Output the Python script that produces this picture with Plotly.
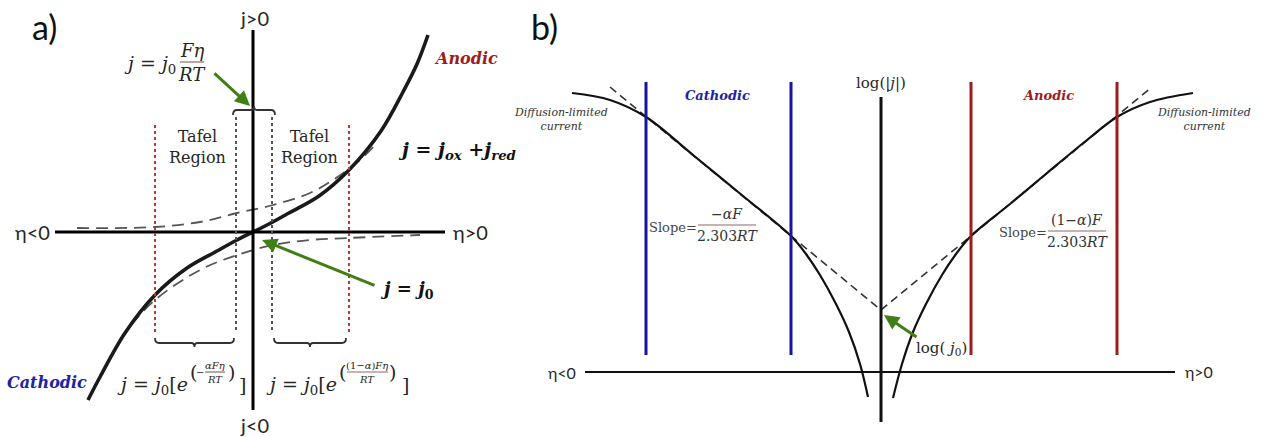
import plotly.graph_objects as go

# ---------------- data (panel a: linear j vs eta; panel b: log|j| vs eta) ----------------
# panel a: total current (Butler-Volmer)
eta_a_total = [-165, -153, -128, -98, -66, -36, -16, 0, 16, 36, 66, 96, 128, 150, 164, 175]
j_a_total = [-168, -145, -101, -63, -36, -19, -8, 0, 8, 19, 36, 62, 101, 140, 168, 197]
# panel a: anodic partial current j_ox (dashed)
eta_a_ox = [-176, -98, -53, -16, 20, 57, 80, 107, 124]
j_a_ox = [4, 5, 10, 19, 27, 39, 52, 72, 89]
# panel a: cathodic partial current j_red (dashed)
eta_a_red = [-133, -126, -98, -53, -16, 20, 57, 95, 167]
j_a_red = [-108, -98, -68, -38, -23, -13, -8, -6, -3]
# panel a: region boundaries
tafel_a_outer = [-98, 96]
tafel_a_inner = [-17, 19]

# panel b: log|j| curves
eta_b_cath = [-309, -271, -235, -188, -138, -90, -75, -61, -45, -32, -21, -13]
logj_b_cath = [279, 272, 255, 217, 176, 136, 118, 97, 68, 40, 8, -25]
eta_b_anod = [12, 21, 32, 45, 61, 75, 90, 129, 166, 206, 236, 269, 312]
logj_b_anod = [-26, 8, 40, 68, 97, 118, 136, 168, 199, 232, 255, 270, 279]
# panel b: Tafel extrapolation lines (meet at log j0)
eta_b_tafel = [-271, 0, 271]
logj_b_tafel = [285, 62, 285]
# panel b: Tafel region boundaries
cath_b_bounds = [-235, -90]
anod_b_bounds = [90, 236]

SERIF = "DejaVu Serif"
SANS = "Lato"
BLUE = "#1c24a4"
DRED = "#a01c1c"
GREEN = "#3f7f16"
INK = "#262626"

W, H = 1266, 437
A_DOM = [0, 560 / W]
A_XR = [-253, 307]
A_YR = [-205, 232]
B_DOM = [380 / W, 1]
B_XR = [-501, 385]
B_YR = [-65, 372]

fig = go.Figure()
ann, shp = [], []


def refs(p):
    return ("x", "y") if p == "a" else ("x2", "y2")


def T(p, u, v, text, size, color=INK, family=SERIF, xa="center", ya="middle"):
    xr, yr = refs(p)
    ann.append(dict(x=u, y=v, xref=xr, yref=yr, text=text, showarrow=False,
                    font=dict(size=size, color=color, family=family),
                    xanchor=xa, yanchor=ya, borderpad=0))


def L(p, x0, y0, x1, y1, color, width, dash=None):
    xr, yr = refs(p)
    d = dict(type="line", xref=xr, yref=yr, x0=x0, y0=y0, x1=x1, y1=y1,
             line=dict(color=color, width=width))
    if dash:
        d["line"]["dash"] = dash
    shp.append(d)


def frac(p, uc, vbar, num, den, size, u0, u1, color=INK, barcolor="#8a6a6a", gap=None):
    g = gap if gap is not None else size * 0.75
    T(p, uc, vbar + g, num, size, color)
    T(p, uc, vbar - g, den, size, color)
    L(p, u0, vbar, u1, vbar, barcolor, 1.2)


def arrow(p, tail, head):
    xr, yr = refs(p)
    ann.append(dict(x=head[0], y=head[1], ax=tail[0], ay=tail[1], xref=xr, yref=yr,
                    axref=xr, ayref=yr, text="", showarrow=True, arrowhead=2,
                    arrowsize=1, arrowwidth=3, arrowcolor=GREEN, standoff=0))


def bracket(p, u0, u1, v, up=True, color="#333"):
    # curly bracket; 'up' means centre nub points up and ends hook down
    xr, yr = refs(p)
    s = 1 if up else -1
    uc = (u0 + u1) / 2
    path = (f"M {u0},{v - 5*s} Q {u0},{v} {u0+4},{v} L {uc-3},{v} Q {uc},{v} {uc},{v + 4*s} "
            f"Q {uc},{v} {uc+3},{v} L {u1-4},{v} Q {u1},{v} {u1},{v - 5*s}")
    shp.append(dict(type="path", xref=xr, yref=yr, path=path, line=dict(color=color, width=1.8)))


# ---------------- panel a ----------------
L("a", -198, 0, 192, 0, "black", 3)
L("a", 0, 202, 0, -178, "black", 3)
for u in tafel_a_outer:
    L("a", u, 107, u, -101, "#c0392b", 2, "dot")
for u in tafel_a_inner:
    L("a", u, 115, u, -98, "#555555", 2, "dot")

fig.add_trace(go.Scatter(x=eta_a_ox, y=j_a_ox, mode="lines", line=dict(color="#555", width=1.8, dash="12px,7px", shape="spline"),
                         xaxis="x", yaxis="y", showlegend=False, hoverinfo="skip"))
fig.add_trace(go.Scatter(x=eta_a_red, y=j_a_red, mode="lines", line=dict(color="#555", width=1.8, dash="12px,7px", shape="spline"),
                         xaxis="x", yaxis="y", showlegend=False, hoverinfo="skip"))
fig.add_trace(go.Scatter(x=eta_a_total, y=j_a_total, mode="lines", line=dict(color="#1a1a1a", width=3.6, shape="spline"),
                         xaxis="x", yaxis="y", showlegend=False, hoverinfo="skip"))

bracket("a", tafel_a_inner[0] - 3, tafel_a_inner[1] + 3, 122, up=True)
bracket("a", tafel_a_outer[0], tafel_a_inner[0] - 2, -111, up=False)
bracket("a", tafel_a_inner[1] + 2, tafel_a_outer[1] - 3, -111, up=False)

T("a", -209, 206, "a)", 34, "#111", SANS)
T("a", 1, 214, "j>0", 20, INK, SANS)
T("a", 1, -193, "j<0", 20, INK, SANS)
T("a", -221, 0, "η<0", 20, INK, SANS)
T("a", 217, 0, "η>0", 20, INK, SANS)
T("a", -56, 85, "Tafel<br>Region", 16, INK)
T("a", 56, 85, "Tafel<br>Region", 16, INK)
T("a", -76, 168, "<i>j</i> = <i>j</i><sub>0</sub>", 19, INK, xa="right")
frac("a", -61, 170, "<i>Fη</i>", "<i>RT</i>", 18, -73, -49, gap=12)
arrow("a", (-40, 160), (-3, 126))
arrow("a", (123, -54), (9, -8))
T("a", 127, -58, "<b><i>j</i> = <i>j</i><sub>0</sub></b>", 18, "#111", xa="left")
T("a", 144, 82, "<b><i>j</i> = <i>j</i><sub><i>ox</i></sub> +<i>j</i><sub><i>red</i></sub></b>", 19, "#111", xa="left")
T("a", 213, 174, "<b><i>Anodic</i></b>", 16, DRED)
T("a", -206, -150, "<b><i>Cathodic</i></b>", 16, BLUE)
# bottom-left formula
T("a", -64, -153, "<i>j</i> = <i>j</i><sub>0</sub>[<i>e</i>", 19, INK, xa="right")
T("a", -60, -140, "(", 19, INK)
T("a", -53, -140, "−", 10, INK)
frac("a", -38, -140, "<i>αFη</i>", "<i>RT</i>", 10, -48, -28, gap=7)
T("a", -22, -140, ")", 19, INK)
T("a", -11, -153, "]", 19, INK)
# bottom-right formula
T("a", 85, -153, "<i>j</i> = <i>j</i><sub>0</sub>[<i>e</i>", 19, INK, xa="right")
T("a", 89, -140, "(", 19, INK)
frac("a", 114, -140, "(1−<i>α</i>)<i>Fη</i>", "<i>RT</i>", 10, 94, 135, gap=7)
T("a", 139, -140, ")", 19, INK)
T("a", 152, -153, "]", 19, INK)

# ---------------- panel b ----------------
L("b", -296, 0, 294, 0, "#111", 2)
L("b", 0, 275, 0, -50, "#111", 3)
for u in cath_b_bounds:
    L("b", u, 290, u, 17, "#1515a0", 3)
for u in anod_b_bounds:
    L("b", u, 290, u, 17, "#9b1d1d", 3)

fig.add_trace(go.Scatter(x=eta_b_tafel, y=logj_b_tafel, mode="lines", line=dict(color="#333", width=1.6, dash="8px,5px"),
                         xaxis="x2", yaxis="y2", showlegend=False, hoverinfo="skip"))
fig.add_trace(go.Scatter(x=eta_b_cath, y=logj_b_cath, mode="lines", line=dict(color="#111", width=2.2, shape="spline"),
                         xaxis="x2", yaxis="y2", showlegend=False, hoverinfo="skip"))
fig.add_trace(go.Scatter(x=eta_b_anod, y=logj_b_anod, mode="lines", line=dict(color="#111", width=2.2, shape="spline"),
                         xaxis="x2", yaxis="y2", showlegend=False, hoverinfo="skip"))

T("b", -337, 346, "b)", 34, "#111", SANS)
T("b", 0, 289, "log(|<i>j</i>|)", 15, INK)
T("b", -319, 0, "η<0", 16, INK, SANS)
T("b", 318, 1, "η>0", 16, INK, SANS)
T("b", -164, 277, "<b><i>Cathodic</i></b>", 13, BLUE)
T("b", 167, 277, "<b><i>Anodic</i></b>", 13, DRED)
T("b", -320, 253, "<i>Diffusion-limited<br>current</i>", 11, "#333")
T("b", 323, 253, "<i>Diffusion-limited<br>current</i>", 11, "#333")
T("b", -183, 145, "Slope=", 13, "#444", xa="right")
frac("b", -154, 147, "<i>−αF</i>", "2.303<i>RT</i>", 14, -183, -125, color="#333", gap=11)
T("b", 167, 140, "Slope=", 13, "#444", xa="right")
frac("b", 196, 141, "(1−<i>α</i>)<i>F</i>", "2.303<i>RT</i>", 14, 167, 225, color="#333", gap=11)
T("b", 60, 24, "log( <i>j</i><sub>0</sub>)", 15, INK)
arrow("b", (37, 34), (3, 57))

ax_common = dict(visible=False, showgrid=False, zeroline=False, fixedrange=True)
fig.update_layout(
    width=W, height=H,
    margin=dict(l=0, r=0, t=0, b=0),
    paper_bgcolor="white", plot_bgcolor="rgba(0,0,0,0)",
    xaxis=dict(domain=A_DOM, range=A_XR, **ax_common),
    yaxis=dict(domain=[0, 1], range=A_YR, **ax_common),
    xaxis2=dict(domain=B_DOM, range=B_XR, anchor="y2", **ax_common),
    yaxis2=dict(domain=[0, 1], range=B_YR, anchor="x2", **ax_common),
    annotations=ann, shapes=shp, showlegend=False,
)
fig.write_html("out.html", config={"displayModeBar": False},
               post_script="document.body.style.margin='0';document.body.style.overflow='hidden';")
